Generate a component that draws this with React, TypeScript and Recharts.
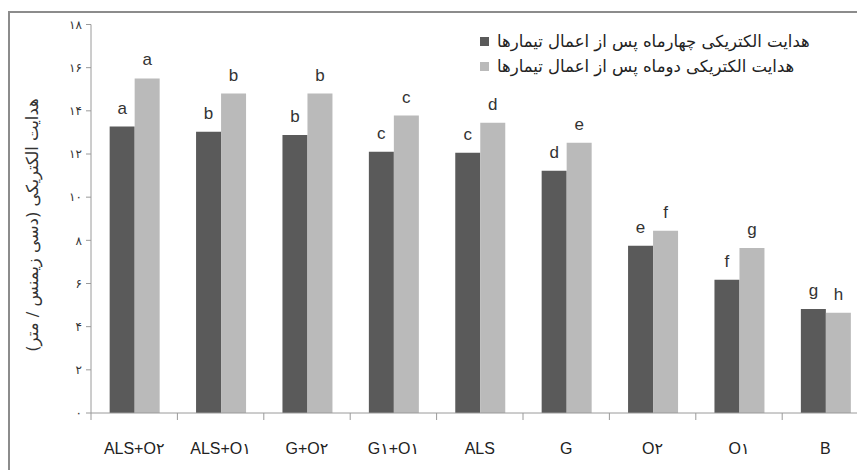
import React from 'react';
import { BarChart, Bar, XAxis, YAxis, LabelList } from 'recharts';

const categories = ['ALS+O۲', 'ALS+O۱', 'G+O۲', 'G۱+O۱', 'ALS', 'G', 'O۲', 'O۱', 'B'];
const fourMonths = [13.27, 13.03, 12.88, 12.1, 12.06, 11.22, 7.75, 6.17, 4.82];
const twoMonths = [15.5, 14.8, 14.8, 13.78, 13.45, 12.52, 8.44, 7.65, 4.64];
const fourLetters = ['a', 'b', 'b', 'c', 'c', 'd', 'e', 'f', 'g'];
const twoLetters = ['a', 'b', 'b', 'c', 'd', 'e', 'f', 'g', 'h'];
const yTicks = [0, 2, 4, 6, 8, 10, 12, 14, 16, 18];

const seriesNames = [
  'هدایت الکتریکی چهارماه پس از اعمال تیمارها',
  'هدایت الکتریکی دوماه پس از اعمال تیمارها',
];
const yTitle = 'هدایت الکتریکی (دسی زیمنس / متر)';

const data = categories.map((name, i) => ({
  name,
  four: fourMonths[i],
  two: twoMonths[i],
  fourL: fourLetters[i],
  twoL: twoLetters[i],
}));

const toFa = (n: number) => String(n).replace(/\d/g, (d) => '۰۱۲۳۴۵۶۷۸۹'[+d]);

const FONT = "'Liberation Sans', 'DejaVu Sans', sans-serif";
const DARK = '#5a5a5a';
const LIGHT = '#bababa';
const AXIS = '#9a9a9a';

const XTick = (props: any) => {
  const { x, y, payload, width } = props;
  const half = width / categories.length / 2;
  return (
    <g>
      <line x1={x - half} y1={y - 8} x2={x - half} y2={y - 1} stroke={AXIS} strokeWidth={1} />
      <text x={x} y={y + 33} textAnchor="middle" fontSize={16} fill="#222" fontFamily={FONT}>
        {payload.value}
      </text>
    </g>
  );
};

export default function App() {
  return (
    <div style={{ position: 'absolute', left: 0, top: 0, width: 857, height: 470, overflow: 'hidden', background: '#fff' }}>
      <div
        style={{
          position: 'absolute',
          left: 8,
          top: 11,
          width: 900,
          height: 500,
          border: '2px solid #8c8c8c',
        }}
      />
      <div style={{ position: 'absolute', left: 0, top: 0 }}>
        <BarChart
          width={880}
          height={470}
          data={data}
          margin={{ top: 24.5, right: 11.4, left: 0, bottom: 17 }}
          barCategoryGap="21.6%"
          barGap={0}
        >
          <XAxis
            dataKey="name"
            height={40}
            stroke={AXIS}
            tickLine={false}
            tick={<XTick />}
            interval={0}
          />
          <YAxis
            width={91}
            domain={[0, 18]}
            ticks={yTicks}
            interval={0}
            stroke={AXIS}
            tickSize={5}
            tickMargin={4}
            tickFormatter={toFa}
            tick={{ fontSize: 12, fill: '#333', fontFamily: "'DejaVu Sans', sans-serif" }}
            label={{
              content: () => (
                <text
                  x={32}
                  y={225}
                  transform="rotate(-90 32 225)"
                  textAnchor="middle"
                  dominantBaseline="central"
                  fontSize={16.5}
                  fill="#333"
                  fontFamily="'DejaVu Sans', sans-serif"
                  direction="rtl"
                >
                  {yTitle}
                </text>
              ),
            }}
          />
          <Bar dataKey="four" fill={DARK} isAnimationActive={false}>
            <LabelList dataKey="fourL" position="top" offset={13} fontSize={17} fill="#333" fontFamily={FONT} />
          </Bar>
          <Bar dataKey="two" fill={LIGHT} isAnimationActive={false}>
            <LabelList dataKey="twoL" position="top" offset={13} fontSize={17} fill="#333" fontFamily={FONT} />
          </Bar>
        </BarChart>
      </div>
      <div style={{ position: 'absolute', left: 480, top: 29, fontFamily: "'DejaVu Sans', sans-serif", fontSize: 16.5, color: '#222' }}>
        {seriesNames.map((s, i) => (
          <div key={s} style={{ display: 'flex', alignItems: 'center', height: 25 }}>
            <span style={{ width: 9, height: 9, background: i === 0 ? DARK : LIGHT, display: 'inline-block', marginRight: 8 }} />
            <span dir="rtl">{s}</span>
          </div>
        ))}
      </div>
    </div>
  );
}
